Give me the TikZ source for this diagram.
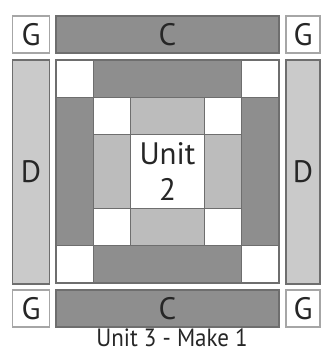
\documentclass[tikz,border=0pt]{standalone}
\usepackage{fontspec}
\setmainfont{PT Sans}
\definecolor{darkpc}{HTML}{8E8E8E}
\definecolor{midpc}{HTML}{BCBCBC}
\definecolor{lightpc}{HTML}{CACACA}
\definecolor{edgec}{HTML}{6E6E6E}
\tikzset{
  piece/.style={draw=edgec, line width=1.2pt},
  darkp/.style={piece, fill=darkpc},
  midp/.style={piece, fill=midpc},
  lightp/.style={piece, fill=lightpc},
  whitep/.style={piece, fill=white},
  gbox/.style={draw=black!35, line width=1.6pt, fill=white},
  lbl/.style={font=\fontsize{31}{31}\selectfont, text=black!85},
}
\begin{document}
\begin{tikzpicture}[x=1pt,y=-1pt]
\useasboundingbox (0,0) rectangle (322,354);
\def\u{37.17}
% side columns
\node[gbox, minimum width=37pt, minimum height=37pt, inner sep=0pt, lbl] (g1) at (31,34.5) {G};
\node[gbox, minimum width=34pt, minimum height=37pt, inner sep=0pt, lbl] (g2) at (303,34.5) {G};
\node[gbox, minimum width=37pt, minimum height=37pt, inner sep=0pt, lbl] (g3) at (31,308.5) {G};
\node[gbox, minimum width=34pt, minimum height=37pt, inner sep=0pt, lbl] (g4) at (303,308.5) {G};
\node[darkp, minimum width=223pt, minimum height=37pt, inner sep=0pt, lbl] (c1) at (167.5,34.5) {C};
\node[darkp, minimum width=223pt, minimum height=37pt, inner sep=0pt, lbl] (c2) at (167.5,308.5) {C};
\node[lightp, minimum width=37pt, minimum height=224pt, inner sep=0pt, lbl] (d1) at (31,172) {D};
\node[lightp, minimum width=34pt, minimum height=224pt, inner sep=0pt, lbl] (d2) at (303,172) {D};
% block
\begin{scope}[shift={(56,60)}]
  % outer ring
  \draw[whitep] (0,0) rectangle (\u,\u);
  \draw[whitep] (5*\u,0) rectangle (6*\u,\u);
  \draw[whitep] (0,5*\u) rectangle (\u,6*\u);
  \draw[whitep] (5*\u,5*\u) rectangle (6*\u,6*\u);
  \draw[darkp] (\u,0) rectangle (5*\u,\u);
  \draw[darkp] (\u,5*\u) rectangle (5*\u,6*\u);
  \draw[darkp] (0,\u) rectangle (\u,5*\u);
  \draw[darkp] (5*\u,\u) rectangle (6*\u,5*\u);
  % inner ring
  \draw[whitep] (\u,\u) rectangle (2*\u,2*\u);
  \draw[whitep] (4*\u,\u) rectangle (5*\u,2*\u);
  \draw[whitep] (\u,4*\u) rectangle (2*\u,5*\u);
  \draw[whitep] (4*\u,4*\u) rectangle (5*\u,5*\u);
  \draw[midp] (2*\u,\u) rectangle (4*\u,2*\u);
  \draw[midp] (2*\u,4*\u) rectangle (4*\u,5*\u);
  \draw[midp] (\u,2*\u) rectangle (2*\u,4*\u);
  \draw[midp] (4*\u,2*\u) rectangle (5*\u,4*\u);
  % center
  \node[whitep, minimum width=2*\u pt, minimum height=2*\u pt, inner sep=0pt, align=center,
        font=\fontsize{31}{36}\selectfont, text=black!85] (ctr) at (3*\u,3*\u) {Unit\\2};
\end{scope}
\node[font=\fontsize{25}{25}\selectfont, text=black!85, inner sep=0pt, anchor=base] (cap) at (172,346)
  {\scalebox{0.92}[1]{Unit 3 - Make 1}};
\end{tikzpicture}
\end{document}
